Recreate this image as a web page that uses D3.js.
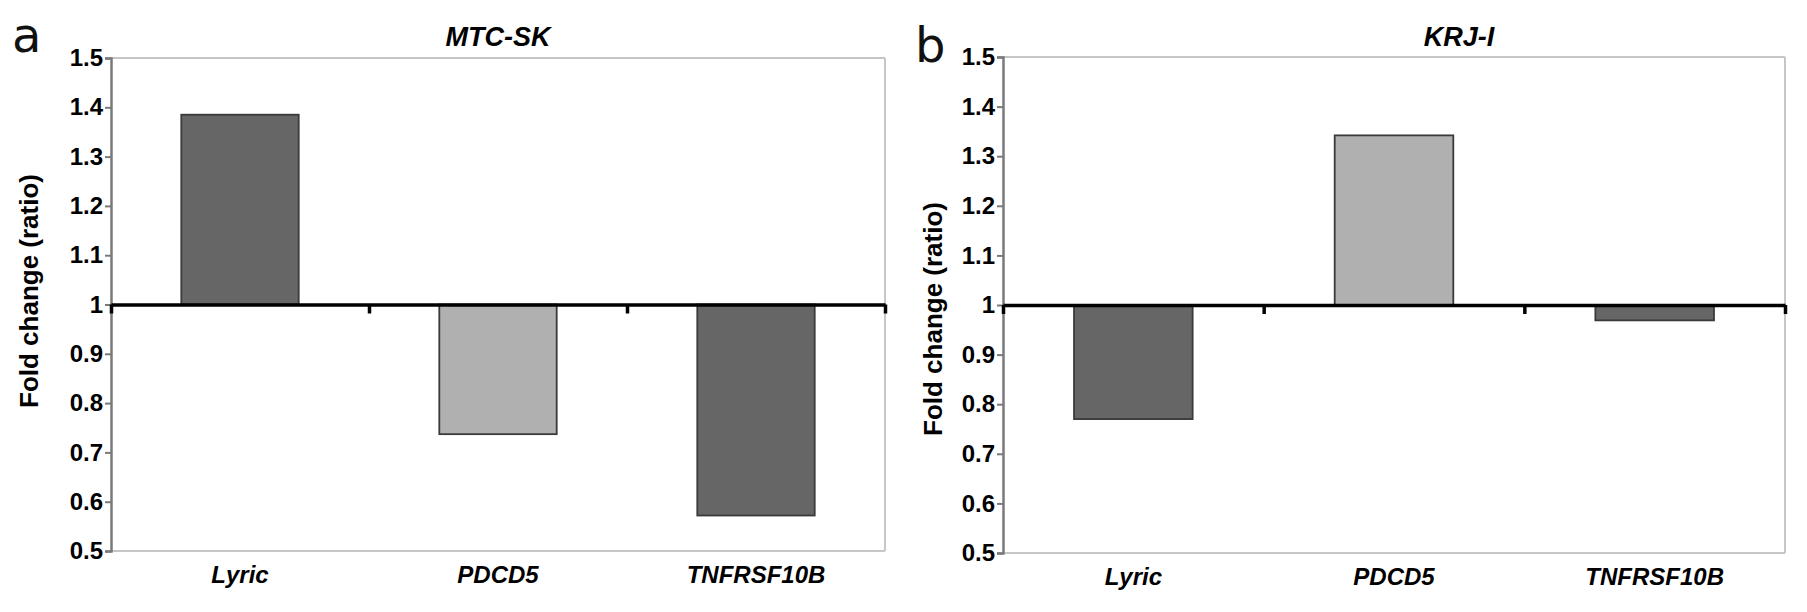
<!DOCTYPE html>
<html>
<head>
<meta charset="utf-8">
<script src="https://cdn.jsdelivr.net/npm/d3@7"></script>
<style>
  html, body { margin: 0; padding: 0; background: #fff; }
  svg { display: block; }
</style>
</head>
<body>
<svg id="chart" width="1807" height="612"></svg>
<script>
// ---- data ----
const categories = ["Lyric", "PDCD5", "TNFRSF10B"];
const mtcSkValues = [1.385, 0.737, 0.572];
const krjValues = [0.770, 1.342, 0.969];
const panelTitles = ["MTC-SK", "KRJ-I"];
const panelLetters = ["a", "b"];
const yTickValues = [0.5, 0.6, 0.7, 0.8, 0.9, 1.0, 1.1, 1.2, 1.3, 1.4, 1.5];
const yTickLabels = ["0.5", "0.6", "0.7", "0.8", "0.9", "1", "1.1", "1.2", "1.3", "1.4", "1.5"];
const yAxisTitle = "Fold change (ratio)";
const baselineValue = 1;

// ---- styles / layout ----
const barFill = { "Lyric": "#666666", "PDCD5": "#b0b0b0", "TNFRSF10B": "#666666" };
const panels = [
  { values: mtcSkValues, x0: 111, x1: 885, top: 58, bottom: 551,
    titleX: 498, letterX: 12, letterY: 52, yTitleX: 38, yTitleY: 291 },
  { values: krjValues, x0: 1003, x1: 1785, top: 57, bottom: 553,
    titleX: 1459, letterX: 915, letterY: 62, yTitleX: 942, yTitleY: 319 }
];

const svg = d3.select("#chart");
const FONT = "'Liberation Sans', Arial, Helvetica, sans-serif";

panels.forEach((p, i) => {
  const g = svg.append("g");
  const y = d3.scaleLinear().domain([0.5, 1.5]).range([p.bottom, p.top]);
  const x = d3.scaleBand().domain(categories).range([p.x0, p.x1])
    .paddingInner(0.545).paddingOuter(0.2725);
  const xEdge = d3.scaleLinear().domain([0, categories.length]).range([p.x0, p.x1]);

  // frame (top / right / bottom light gray)
  g.append("line").attr("x1", p.x0).attr("x2", p.x1).attr("y1", p.top).attr("y2", p.top)
    .attr("stroke", "#c6c6c6").attr("stroke-width", 2);
  g.append("line").attr("x1", p.x1).attr("x2", p.x1).attr("y1", p.top).attr("y2", p.bottom)
    .attr("stroke", "#c6c6c6").attr("stroke-width", 2);
  g.append("line").attr("x1", p.x0).attr("x2", p.x1).attr("y1", p.bottom).attr("y2", p.bottom)
    .attr("stroke", "#c6c6c6").attr("stroke-width", 2);

  // bars
  g.selectAll("rect.bar").data(categories.map((c, k) => ({ c, v: p.values[k] })))
    .enter().append("rect").attr("class", "bar")
    .attr("x", d => x(d.c))
    .attr("width", x.bandwidth())
    .attr("y", d => y(Math.max(d.v, baselineValue)))
    .attr("height", d => Math.abs(y(d.v) - y(baselineValue)))
    .attr("fill", d => barFill[d.c])
    .attr("stroke", "#3a3a3a").attr("stroke-width", 1.8);

  // y axis
  const yAxis = d3.axisLeft(y).tickValues(yTickValues)
    .tickFormat((d, k) => yTickLabels[k]).tickSize(6).tickPadding(2);
  const ya = g.append("g").attr("transform", `translate(${p.x0},0)`).call(yAxis);
  ya.select(".domain").attr("stroke", "#7a7a7a").attr("stroke-width", 2.5);
  ya.selectAll(".tick line").attr("stroke", "#7a7a7a").attr("stroke-width", 2);
  ya.selectAll(".tick text").attr("font-family", FONT).attr("font-weight", "bold")
    .attr("font-size", 24).attr("fill", "#000");

  // baseline axis at y = 1 with ticks at category boundaries
  const bAxis = d3.axisBottom(xEdge).tickValues(d3.range(categories.length + 1))
    .tickFormat("").tickSize(9).tickSizeOuter(0);
  const ba = g.append("g").attr("transform", `translate(0,${y(baselineValue)})`).call(bAxis);
  ba.select(".domain").attr("stroke", "#000").attr("stroke-width", 3.5);
  ba.selectAll(".tick line").attr("stroke", "#000").attr("stroke-width", 3.5);

  // category labels
  const xAxis = d3.axisBottom(x).tickSize(0).tickPadding(15);
  const xa = g.append("g").attr("transform", `translate(0,${p.bottom})`).call(xAxis);
  xa.select(".domain").remove();
  xa.selectAll(".tick text").attr("font-family", FONT).attr("font-weight", "bold")
    .attr("font-style", "italic").attr("font-size", 24).attr("fill", "#000");

  // y-axis title
  g.append("text")
    .attr("transform", `translate(${p.yTitleX},${p.yTitleY}) rotate(-90)`)
    .attr("text-anchor", "middle")
    .attr("font-family", FONT).attr("font-weight", "bold").attr("font-size", 26)
    .text(yAxisTitle);

  // panel title
  g.append("text").attr("x", p.titleX).attr("y", 46).attr("text-anchor", "middle")
    .attr("font-family", FONT).attr("font-weight", "bold").attr("font-style", "italic")
    .attr("font-size", 27).text(panelTitles[i]);

  // panel letter
  g.append("text").attr("x", p.letterX).attr("y", p.letterY)
    .attr("font-family", "'DejaVu Sans', 'Liberation Sans', sans-serif").attr("font-weight", "normal")
    .attr("font-size", 48).attr("fill", "#111").text(panelLetters[i]);
});
</script>
</body>
</html>
